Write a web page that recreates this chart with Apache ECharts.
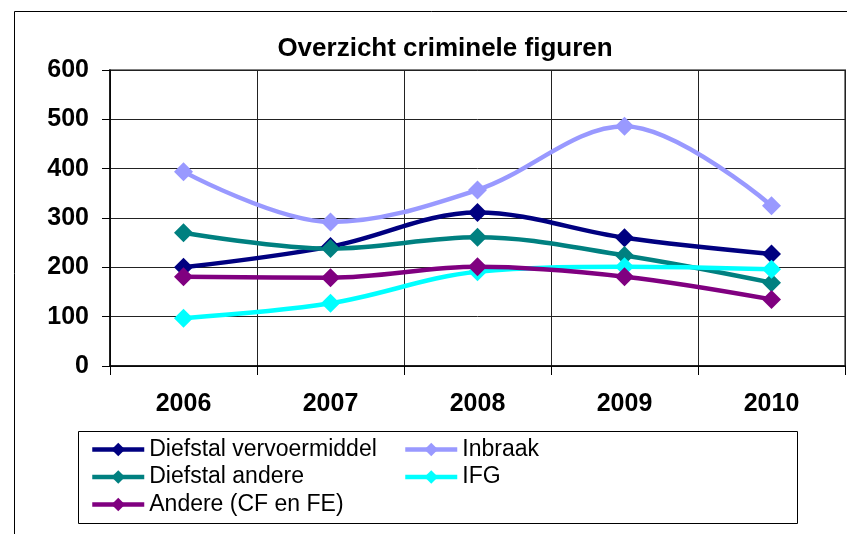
<!DOCTYPE html>
<html>
<head>
<meta charset="utf-8">
<title>Overzicht criminele figuren</title>
<script src="https://cdn.jsdelivr.net/npm/echarts@6/dist/echarts.min.js"></script>
<style>
  html, body { margin: 0; padding: 0; background: #fff; }
  #chart { width: 847px; height: 534px; }
</style>
</head>
<body>
<div id="chart"></div>
<script>
// data
const years = ['2006', '2007', '2008', '2009', '2010']
const yTicks = [0, 100, 200, 300, 400, 500, 600]
const diefstalVervoermiddel = [200, 242, 311, 260, 227]
const inbraak = [394, 292, 357, 486, 325]
const diefstalAndere = [270, 238, 261, 224, 169]
const ifg = [97, 127, 191, 201, 196]
const andere = [181, 179, 201, 181, 135]

const chart = echarts.init(document.getElementById('chart'))

const font = 'Liberation Sans, Arial, sans-serif'

// one line series, Excel-like smoothed line with diamonds
const makeSeries = (name, data, color) => ({
  name: name,
  type: 'line',
  data: data,
  smooth: 0.35,
  symbol: 'diamond',
  symbolSize: 19,
  lineStyle: { color: color, width: 4.5 },
  itemStyle: { color: color },
  emphasis: { disabled: true }
})

const legendCommon = {
  orient: 'vertical',
  itemWidth: 52,
  itemHeight: 17,
  itemGap: 4.5,
  padding: 0,
  selectedMode: false,
  lineStyle: { width: 4.5 },
  textStyle: { fontFamily: font, fontSize: 23, color: '#000', lineHeight: 23 }
}

const option = {
  animation: false,
  title: {
    text: 'Overzicht criminele figuren',
    left: 440,
    top: 31,
    textAlign: 'center',
    textStyle: { fontFamily: font, fontSize: 26, fontWeight: 'bold', color: '#000' }
  },
  // outer chart frame and legend box
  graphic: [
    {
      type: 'rect',
      shape: { x: 14.5, y: 11.5, width: 900, height: 600 },
      style: { fill: 'none', stroke: '#000', lineWidth: 1 },
      silent: true,
      z: -1
    },
    {
      type: 'rect',
      shape: { x: 78.5, y: 431.5, width: 719, height: 92 },
      style: { fill: '#fff', stroke: '#000', lineWidth: 1 },
      silent: true,
      z: 0
    }
  ],
  legend: [
    Object.assign({}, legendCommon, {
      left: 90,
      top: 438,
      data: ['Diefstal vervoermiddel', 'Diefstal andere', 'Andere (CF en FE)']
    }),
    Object.assign({}, legendCommon, {
      left: 403,
      top: 438,
      data: ['Inbraak', 'IFG']
    })
  ],
  grid: {
    left: 110,
    top: 70,
    right: 2,
    bottom: 168,
    show: true,
    borderColor: '#808080',
    borderWidth: 2,
    containLabel: false
  },
  xAxis: {
    type: 'category',
    data: years,
    boundaryGap: true,
    axisLine: { lineStyle: { color: '#000', width: 1.5 } },
    axisTick: { show: true, inside: false, length: 9, lineStyle: { color: '#000' } },
    axisLabel: { margin: 26, fontFamily: font, fontSize: 25, fontWeight: 'bold', color: '#000' },
    splitLine: { show: true, lineStyle: { color: '#222', width: 1 } }
  },
  yAxis: {
    type: 'value',
    min: yTicks[0],
    max: yTicks[yTicks.length - 1],
    interval: 100,
    axisLine: { show: true, lineStyle: { color: '#000', width: 1.5 } },
    axisTick: { show: true, inside: false, length: 8, lineStyle: { color: '#000' } },
    axisLabel: { margin: 21, fontFamily: font, fontSize: 25, fontWeight: 'bold', color: '#000' },
    splitLine: { show: true, lineStyle: { color: '#222', width: 1 } }
  },
  series: [
    makeSeries('Diefstal vervoermiddel', diefstalVervoermiddel, '#000080'),
    makeSeries('Inbraak', inbraak, '#9999FF'),
    makeSeries('Diefstal andere', diefstalAndere, '#008080'),
    makeSeries('IFG', ifg, '#00FFFF'),
    makeSeries('Andere (CF en FE)', andere, '#800080')
  ]
}

chart.setOption(option)
</script>
</body>
</html>
